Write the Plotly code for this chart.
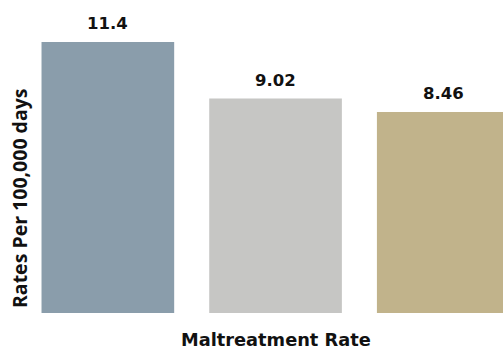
import plotly.graph_objects as go

# Maltreatment rates per 100,000 days by group
categories = ["Group A", "Group B", "Group C"]
rates = [11.4, 9.02, 8.46]
rate_labels = ["11.4", "9.02", "8.46"]
bar_colors = ["#8a9dab", "#c6c6c4", "#c1b38b"]

W, H = 503, 353
L, B = 24, 40
px_per_cat = 167.7
px_per_unit = 23.77

fig = go.Figure(
    go.Bar(
        x=list(range(len(categories))),
        y=rates,
        marker=dict(color=bar_colors, line=dict(width=0)),
        hoverinfo="skip",
    )
)

for i, (v, lab) in enumerate(zip(rates, rate_labels)):
    fig.add_annotation(
        x=i, y=v, xref="x", yref="y", text=lab, showarrow=False,
        yanchor="bottom", yshift=7,
        font=dict(family="DejaVu Sans", size=16.5, color="#111111", weight=700),
    )

plot_w = W - L
plot_h = H - B

# Axis titles
fig.add_annotation(
    x=(275.5 - L) / plot_w, y=(plot_h - 340) / plot_h, xref="paper", yref="paper",
    text="Maltreatment Rate", showarrow=False, xanchor="center", yanchor="middle",
    font=dict(family="DejaVu Sans", size=17.8, color="#111111", weight=700),
)
fig.add_annotation(
    x=(19 - L) / plot_w, y=(plot_h - 198) / plot_h, xref="paper", yref="paper",
    text="Rates Per 100,000 days", showarrow=False, textangle=-90,
    xanchor="center", yanchor="middle",
    font=dict(family="Open Sans", size=19.5, color="#111111", weight=700),
)

fig.update_layout(
    width=W, height=H,
    margin=dict(l=L, r=0, t=0, b=B, pad=0),
    paper_bgcolor="white", plot_bgcolor="white",
    bargap=0.209,
    showlegend=False,
    xaxis=dict(range=[-0.5, -0.5 + plot_w / px_per_cat], showticklabels=False,
               showgrid=False, zeroline=False, showline=False, ticks=""),
    yaxis=dict(range=[0, plot_h / px_per_unit], showticklabels=False,
               showgrid=False, zeroline=False, showline=False, ticks=""),
)

fig.write_html("out.html")
